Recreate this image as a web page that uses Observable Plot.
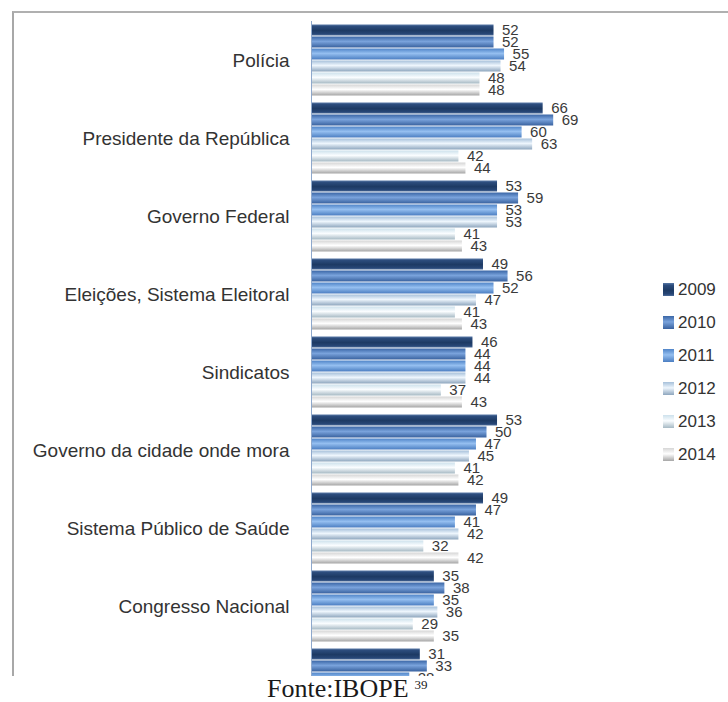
<!DOCTYPE html>
<html><head><meta charset="utf-8">
<script src="https://cdn.jsdelivr.net/npm/d3@7"></script>
<script src="https://cdn.jsdelivr.net/npm/@observablehq/plot@0.6"></script>
<style>
body{margin:0;background:#fff;}
#wrap{position:relative;width:728px;height:676px;overflow:hidden;background:#fff;}
#chart{position:absolute;left:0;top:0;}
#frame{position:absolute;left:12px;top:11px;right:-4px;bottom:-4px;border-top:2px solid #b0b0b0;border-left:2px solid #a8a8a8;pointer-events:none;}
#legend{position:absolute;left:663px;top:273px;font-family:"Liberation Sans",Arial,sans-serif;font-size:17px;color:#333;}
.item{display:flex;align-items:center;height:33px;}
.sw{width:11px;height:13px;margin-right:4px;}
#source{position:absolute;left:267px;top:676px;font-family:"Liberation Serif",serif;font-size:26px;line-height:26px;color:#1a1a1a;white-space:nowrap;}
#source sup{font-size:13px;line-height:13px;vertical-align:0;position:relative;top:-8px;margin-left:6px;}
</style>
</head><body>
<div id="wrap"><div id="chart"></div><div id="frame"></div><div id="legend"></div></div>
<div id="source">Fonte:IBOPE<sup>39</sup></div>
<script>
const categories = ["Polícia","Presidente da República","Governo Federal","Eleições, Sistema Eleitoral","Sindicatos","Governo da cidade onde mora","Sistema Público de Saúde","Congresso Nacional","Partidos Políticos"];
const years = ["2009","2010","2011","2012","2013","2014"];
const v2009 = [52,66,53,49,46,53,49,35,31];
const v2010 = [52,69,59,56,44,50,47,38,33];
const v2011 = [55,60,53,52,44,47,41,35,28];
const v2012 = [54,63,53,47,44,45,42,36,29];
const v2013 = [48,42,41,41,37,41,32,29,25];
const v2014 = [48,44,43,43,43,42,42,35,30];
const series = [v2009,v2010,v2011,v2012,v2013,v2014];

// vertical gradient stops per year (offset, colour)
const grads = {
  "2009": [[0,"#5878a6"],[0.18,"#2c4c7c"],[0.55,"#1d3a64"],[0.85,"#274676"],[1,"#4e6d9a"]],
  "2010": [[0,"#3a66a6"],[0.45,"#7aa3dc"],[1,"#39629f"]],
  "2011": [[0,"#4f84c8"],[0.45,"#95bff0"],[1,"#4b7ec2"]],
  "2012": [[0,"#a6c0da"],[0.45,"#eef6fd"],[1,"#8ea6be"]],
  "2013": [[0,"#cde1ec"],[0.45,"#fafdff"],[1,"#a6b9c4"]],
  "2014": [[0,"#d6d6d6"],[0.45,"#ffffff"],[1,"#a6a6a6"]]
};

const data = [];
categories.forEach((c,i) => years.forEach((y,j) => data.push({cat:c, year:y, value:series[j][i]})));

const font = '"Liberation Sans",Arial,sans-serif';

const svg = Plot.plot({
  width: 728, height: 726,
  marginLeft: 311, marginRight: 66, marginTop: 18.5, marginBottom: 0,
  style: {fontFamily: font, background: "transparent", color: "#333"},
  x: {domain: [0, 100], axis: null},
  y: {domain: years, axis: null, paddingInner: 0.06, paddingOuter: 0.02},
  fy: {domain: categories, paddingInner: 0.07, paddingOuter: 0.07, label: null},
  color: {domain: years, range: years.map(y => `url(#g${y})`)},
  marks: [
    Plot.barX(data, {fy: "cat", y: "year", x: "value", fill: "year"}),
    Plot.ruleX([0], {stroke: "#8ea8cc", strokeWidth: 1, insetTop: -3, insetBottom: -3}),
    Plot.text(data, {fy: "cat", y: "year", x: "value", text: d => String(d.value), dx: 8, textAnchor: "start", fontSize: 15, fill: "#3a3a3a"}),
    Plot.axisFy({anchor: "left", tickSize: 0, tickPadding: 22, label: null, fontSize: 19, fill: "#333"})
  ]
});

const defs = d3.select(svg).insert("defs", ":first-child");
for (const y of years) {
  const g = defs.append("linearGradient").attr("id", `g${y}`).attr("x1", 0).attr("y1", 0).attr("x2", 0).attr("y2", 1);
  for (const [o, c] of grads[y]) g.append("stop").attr("offset", o).attr("stop-color", c);
}
document.getElementById("chart").appendChild(svg);

const legend = d3.select("#legend");
for (const y of years) {
  const it = legend.append("div").attr("class", "item");
  it.append("div").attr("class", "sw")
    .style("background", `linear-gradient(to bottom, ${grads[y].map(([o,c]) => `${c} ${o*100}%`).join(", ")})`);
  it.append("span").text(y);
}
</script>
</body></html>
